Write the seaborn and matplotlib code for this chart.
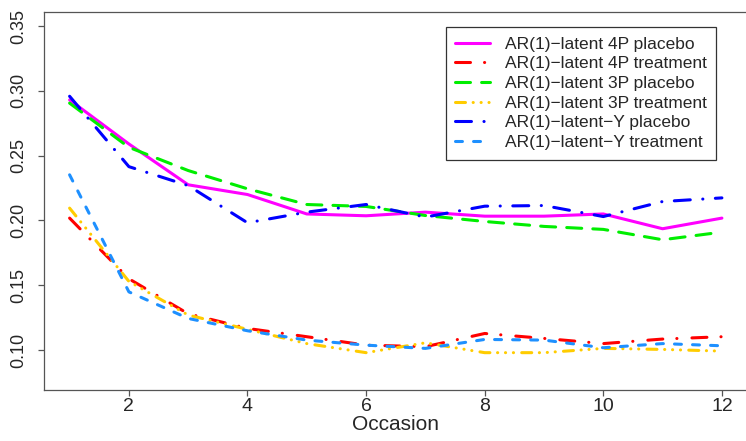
import matplotlib
matplotlib.use("Agg")
import matplotlib.pyplot as plt
import seaborn as sns
import pandas as pd
import numpy as np

occasion = [1, 2, 3, 4, 5, 6, 7, 8, 9, 10, 11, 12]

labels = [
    "AR(1)\u2212latent 4P placebo",
    "AR(1)\u2212latent 4P treatment",
    "AR(1)\u2212latent 3P placebo",
    "AR(1)\u2212latent 3P treatment",
    "AR(1)\u2212latent\u2212Y placebo",
    "AR(1)\u2212latent\u2212Y treatment",
]

p4_placebo = [0.293, 0.259, 0.2275, 0.220, 0.205, 0.2036, 0.2064, 0.2033, 0.2033, 0.205, 0.1936, 0.2018]
p4_treatment = [0.2018, 0.155, 0.128, 0.1167, 0.1103, 0.1038, 0.1026, 0.1128, 0.109, 0.105, 0.1085, 0.1103]
p3_placebo = [0.2905, 0.2564, 0.2385, 0.2244, 0.2123, 0.2108, 0.2038, 0.1992, 0.1954, 0.1931, 0.1851, 0.191]
p3_treatment = [0.2095, 0.153, 0.127, 0.116, 0.105, 0.098, 0.1056, 0.098, 0.098, 0.1013, 0.1005, 0.0992]
y_placebo = [0.2958, 0.2415, 0.2269, 0.1982, 0.2064, 0.2123, 0.2026, 0.211, 0.2115, 0.203, 0.2146, 0.2174]
y_treatment = [0.2352, 0.1449, 0.1244, 0.1149, 0.1077, 0.1038, 0.1013, 0.1082, 0.1077, 0.1018, 0.105, 0.1033]

series = [p4_placebo, p4_treatment, p3_placebo, p3_treatment, y_placebo, y_treatment]

colors = ["#FF00FF", "#FF0000", "#00EE00", "#FFCC00", "#0000FF", "#1E90FF"]
# dash patterns in points (round caps)
dash_patterns = [
    None,
    (10.8, 10.1, 0.1, 10.8),
    (10.8, 8.0),
    (7.2, 5.5, 0.1, 5.6, 0.1, 5.6, 0.1, 5.9),
    (11.5, 9.0, 0.1, 9.0),
    (5.0, 8.0),
]

sns.set_style("white")
plt.rcParams["font.family"] = ["Liberation Sans", "DejaVu Sans"]
plt.rcParams["lines.dash_capstyle"] = "round"
plt.rcParams["lines.solid_capstyle"] = "round"
plt.rcParams["lines.dash_joinstyle"] = "round"
plt.rcParams["lines.solid_joinstyle"] = "round"
plt.rcParams["lines.scale_dashes"] = False

W, H = 746, 441
fig = plt.figure(figsize=(W / 100, H / 100), dpi=100)
ax = fig.add_axes([43.5 / W, (H - 390) / H, (748 - 43.5) / W, (390 - 12) / H])

lw = 2.2
handles = []
for lab, vals, col, dp in zip(labels, series, colors, dash_patterns):
    df = pd.DataFrame({"Occasion": occasion, "value": vals})
    sns.lineplot(data=df, x="Occasion", y="value", ax=ax, color=col, linewidth=lw,
                 errorbar=None, legend=False)
    line = ax.lines[-1]
    if dp is not None:
        line.set_dashes(dp)
    line.set_label(lab)
    handles.append(line)

ax.set_xlim(0.56, 12.44)
ax.set_ylim(0.0692, 0.3608)
ax.set_xticks([2, 4, 6, 8, 10, 12])
ax.set_yticks([0.10, 0.15, 0.20, 0.25, 0.30, 0.35])
ax.set_yticklabels([f"{v:.2f}" for v in [0.10, 0.15, 0.20, 0.25, 0.30, 0.35]],
                   rotation=90, va="center",
                   family=["Liberation Sans Narrow", "Liberation Sans"], fontsize=13)
ax.tick_params(axis="x", labelsize=14, length=4, width=0.9, color="#555555", pad=2, direction="out", bottom=True)
ax.tick_params(axis="y", length=4.5, width=0.9, color="#555555", pad=7, direction="out", left=True)
ax.set_xlabel("Occasion", fontsize=15, labelpad=0)
ax.set_ylabel("")

for side in ["left", "bottom", "top"]:
    ax.spines[side].set_color("#555555")
    ax.spines[side].set_linewidth(0.9)
ax.spines["right"].set_visible(False)

leg = ax.legend(handles=handles, labels=labels, loc="upper right",
                bbox_to_anchor=(716 / W, 1 - 27 / H), bbox_transform=fig.transFigure,
                fontsize=12.5, labelspacing=0.26, handlelength=2.0, handletextpad=0.85,
                borderpad=0.55, borderaxespad=0, frameon=True, fancybox=False,
                framealpha=1, edgecolor="#333333")
leg.get_frame().set_linewidth(0.9)

fig.savefig("out.png", dpi=100)
